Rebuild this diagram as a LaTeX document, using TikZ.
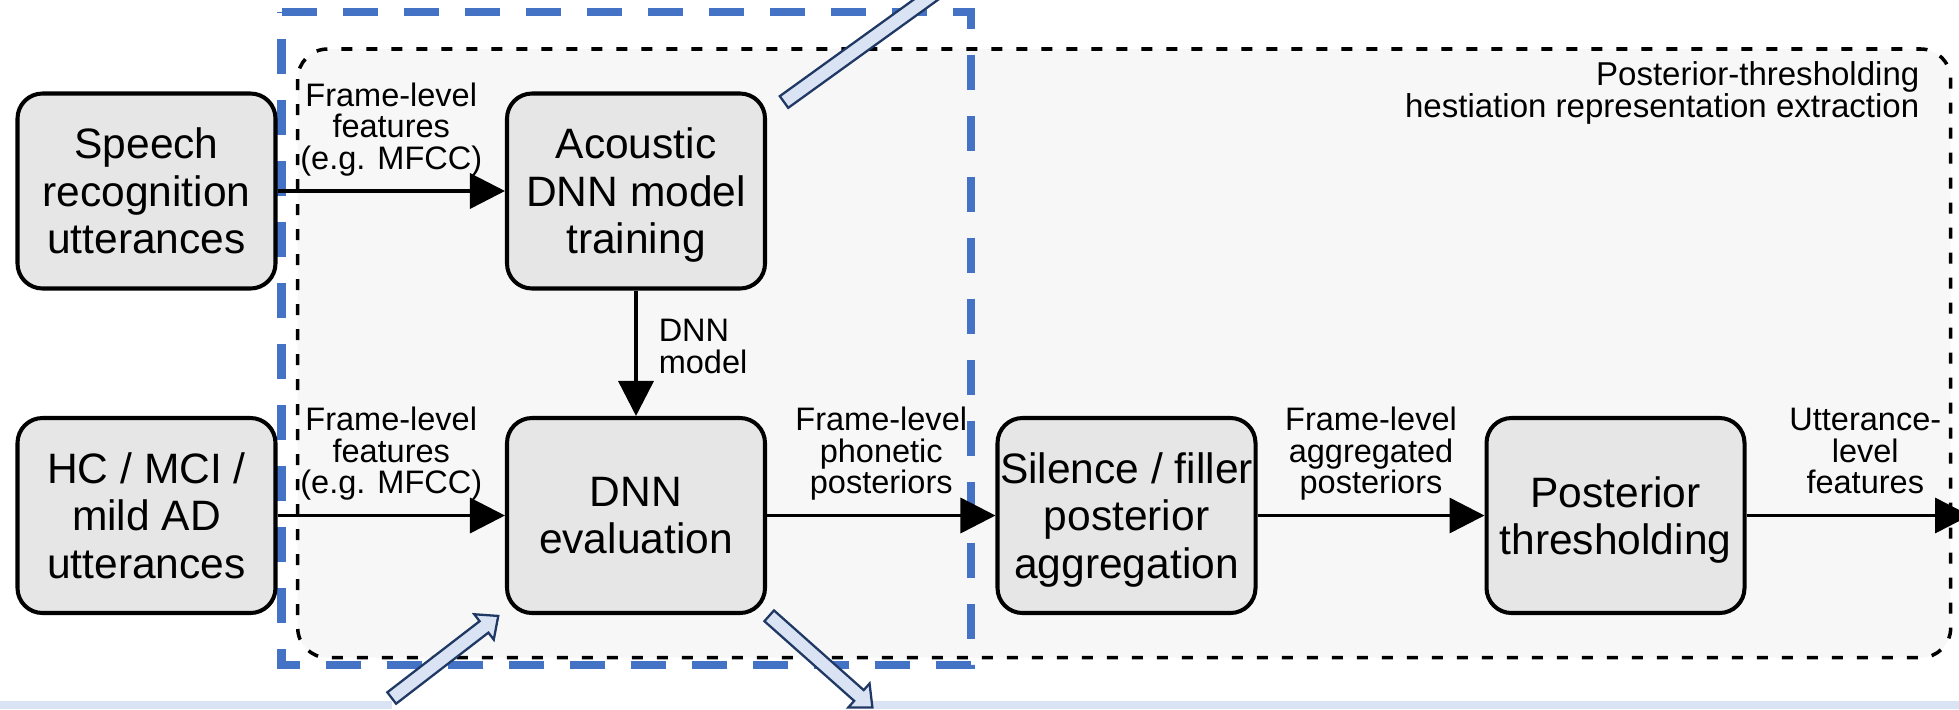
\documentclass[tikz,border=0pt]{standalone}
\usepackage{fontspec}
\setmainfont{Liberation Sans}
\usetikzlibrary{arrows.meta, positioning}

\definecolor{boxgray}{HTML}{E6E6E6}
\definecolor{panelgray}{HTML}{F7F7F7}
\definecolor{officeblue}{HTML}{4472C4}
\definecolor{hintblue}{HTML}{DAE3F3}
\definecolor{navyline}{HTML}{203864}

\begin{document}
\begin{tikzpicture}[
  x=0.1mm, y=-0.1mm,
  block/.style={draw, line width=1.15pt, rounded corners=2.5mm, fill=boxgray,
    minimum width=25.8mm, minimum height=19.5mm, inner sep=0pt,
    align=center, text depth=0pt, font=\fontsize{12.1pt}{13.5pt}\selectfont},
  lbl/.style={align=center, inner sep=0pt, text depth=0pt,
    font=\fontsize{9.25pt}{8.96pt}\selectfont},
  flow/.style={line width=1pt, -{Triangle[length=3.5mm, width=3.5mm]}},
  panel/.style={draw, fill=panelgray, line width=1pt,
    dash pattern=on 1.1mm off 1.4mm, rounded corners=3mm},
  focus/.style={draw=officeblue, line width=2.4pt, dash pattern=on 3.5mm off 2.6mm},
  hollow/.style={draw=navyline, fill=hintblue, line width=0.65pt},
]
\useasboundingbox (0,0) rectangle (1959,709);
\clip (0,0) rectangle (1959,709);

% --- Background panel and highlighted region ---
\path[panel] (297.7,49) rectangle (1950.7,657.7);
\node[lbl, anchor=north east, align=right, font=\fontsize{9.4pt}{9.1pt}\selectfont]
  (paneltitle) at (1920,61) {Posterior-thresholding\\hestiation representation extraction};
\draw[focus] (281.7,12) -- (971,12) -- (971,665) -- (281.7,665) -- cycle;

% strips of the neighbouring parts below
\fill[hintblue] (0,701) rectangle (392,709);
\fill[hintblue] (873,701) rectangle (1959,709);

% --- Processing blocks ---
\node[block] (speech)   at (146.5,191)   {Speech\\recognition\\utterances};
\node[block] (patients) at (146.5,515.5) {HC / MCI /\\mild AD\\utterances};
\node[block] (acoustic) at (636,191)     {Acoustic\\DNN model\\training};
\node[block] (dnneval)  at (636,515.5)   {DNN\\evaluation};
\node[block] (silence)  at (1126.5,515.5) {Silence / filler\\posterior\\aggregation};
\node[block] (thresh)   at (1615.5,515.5) {Posterior\\thresholding};
\coordinate (out) at (1970,515.5);

% --- Data flow ---
\draw[flow] (speech) -- node[lbl, above=2mm] {Frame-level\\features\\(e.g. MFCC)} (acoustic);
\draw[flow] (patients) -- node[lbl, above=2mm] {Frame-level\\features\\(e.g. MFCC)} (dnneval);
\draw[flow] (acoustic) -- node[lbl, align=left, right=2.1mm, yshift=0.7mm] {DNN\\model} (dnneval);
\draw[flow] (dnneval) -- node[lbl, above=2mm] {Frame-level\\phonetic\\posteriors} (silence);
\draw[flow] (silence) -- node[lbl, above=2mm] {Frame-level\\aggregated\\posteriors} (thresh);
\draw[flow] (thresh) -- node[lbl, above=2mm, xshift=0.7mm] {Utterance-\\level\\features} (out);

% --- Block arrows linking to the other parts ---
\foreach \px/\py/\ang/\len in {784/102/35.8/320, 391.7/698/37.6/134.5, 769.2/615.8/-41.6/138} {
  \begin{scope}[shift={(\px,\py)}, rotate=\ang]
    \draw[hollow] (0,-7.2) -- ({\len-18},-7.2) -- ({\len-18},-16) -- (\len,0)
      -- ({\len-18},16) -- ({\len-18},7.2) -- (0,7.2) -- cycle;
  \end{scope}
}

\end{tikzpicture}
\end{document}
